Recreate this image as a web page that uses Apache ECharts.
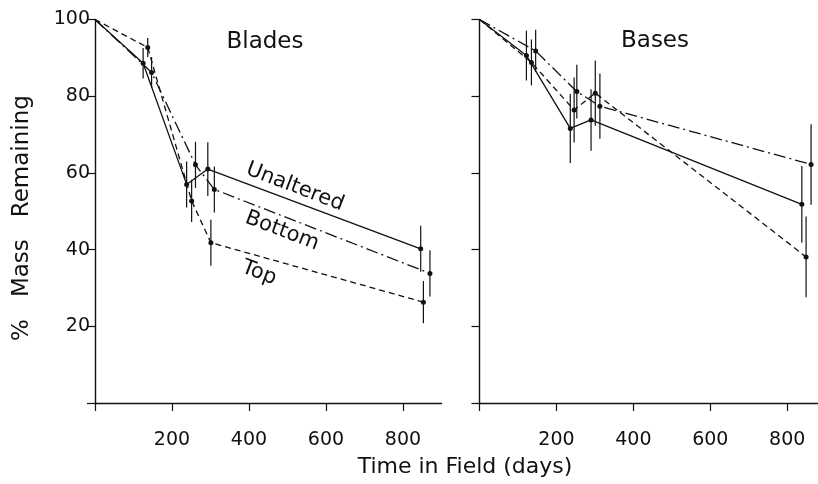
<!DOCTYPE html>
<html><head><meta charset="utf-8">
<script src="https://cdn.jsdelivr.net/npm/echarts@6/dist/echarts.min.js"></script>
<style>html,body{margin:0;padding:0;background:#fff}#c{width:818px;height:484px}</style>
</head><body><div id="c"></div>
<script>
// ---- data ----
const xTicks = [0, 200, 400, 600, 800];
const yTicks = [0, 20, 40, 60, 80, 100];

const bladesUnalteredDays = [0, 125, 238, 293, 846];
const bladesUnalteredMass = [100, 88.6, 57.0, 61.0, 40.2];
const bladesUnalteredErr  = [0, 4, 6, 7, 6];

const bladesTopDays = [0, 137, 251, 301, 853];
const bladesTopMass = [100, 92.7, 52.7, 41.8, 26.3];
const bladesTopErr  = [0, 2.5, 5.5, 6, 5.5];

const bladesBottomDays = [0, 147, 261, 310, 870];
const bladesBottomMass = [100, 86.2, 62.1, 55.7, 33.8];
const bladesBottomErr  = [0, 4, 6, 6, 6];

const basesUnalteredDays = [0, 122, 236, 290, 838];
const basesUnalteredMass = [100, 90.6, 71.6, 73.8, 51.8];
const basesUnalteredErr  = [0, 6.5, 9, 8, 10];

const basesTopDays = [0, 135, 246, 301, 849];
const basesTopMass = [100, 88.8, 76.4, 80.8, 38.1];
const basesTopErr  = [0, 6, 8.5, 8.5, 10.5];

const basesBottomDays = [0, 146, 253, 313, 862];
const basesBottomMass = [100, 91.8, 81.2, 77.4, 62.2];
const basesBottomErr  = [0, 5.5, 7, 8.5, 10.5];

// ---- chart ----
const FONT = 'DejaVu Sans';
const INK = '#111';
const chart = echarts.init(document.getElementById('c'), null, {renderer: 'canvas'});

function pts(d, m) {
  return d.map((x, i) => ({value: [x, m[i]], symbolSize: i === 0 ? 0 : 5}));
}
function errs(d, m, e) {
  const out = [];
  d.forEach((x, i) => { if (e[i] > 0) out.push([x, m[i] - e[i], m[i] + e[i]]); });
  return out;
}
function lineSeries(name, idx, d, m, type) {
  return {
    name, type: 'line', xAxisIndex: idx, yAxisIndex: idx,
    data: pts(d, m), symbol: 'circle',
    lineStyle: {color: INK, width: 1.3, type: type},
    itemStyle: {color: INK},
    animation: false, silent: true
  };
}
function errSeries(idx, d, m, e) {
  return {
    type: 'custom', xAxisIndex: idx, yAxisIndex: idx,
    data: errs(d, m, e), animation: false, silent: true,
    renderItem(params, api) {
      const a = api.coord([api.value(0), api.value(1)]);
      const b = api.coord([api.value(0), api.value(2)]);
      return {type: 'line', shape: {x1: a[0], y1: a[1], x2: b[0], y2: b[1]},
        style: {stroke: INK, lineWidth: 1.2}};
    }
  };
}
const DASH = [6, 4];
const DASHDOT = [12, 4, 2, 4];

function xAxis(idx, max) {
  return {
    type: 'value', gridIndex: idx, min: 0, max: max, interval: 200,
    axisLine: {show: true, onZero: false, lineStyle: {color: INK, width: 1.4}},
    axisTick: {show: true, length: 8, lineStyle: {color: INK, width: 1.2}, customValues: xTicks},
    axisLabel: {show: true, color: INK, fontFamily: FONT, fontSize: 19, margin: 28,
      customValues: xTicks.filter(v => v > 0),
      formatter: v => (v > 0 && v % 200 === 0 && v <= 800) ? String(v) : ''},
    splitLine: {show: false}
  };
}
function yAxis(idx, showLabels) {
  return {
    type: 'value', gridIndex: idx, min: 0, max: 100, interval: 20,
    axisLine: {show: true, onZero: false, lineStyle: {color: INK, width: 1.4}},
    axisTick: {show: true, length: 8, lineStyle: {color: INK, width: 1.2}, customValues: yTicks},
    axisLabel: {show: showLabels, color: INK, fontFamily: FONT, fontSize: 19, margin: 5,
      customValues: yTicks.filter(v => v > 0),
      formatter: v => v === 0 ? '' : String(v)},
    splitLine: {show: false}
  };
}

const option = {
  backgroundColor: '#fff',
  animation: false,
  grid: [
    {left: 95, top: 19.5, width: 346.5, height: 383.5},
    {left: 479.5, top: 19.5, width: 339, height: 383.5}
  ],
  xAxis: [xAxis(0, 900), xAxis(1, 880)],
  yAxis: [yAxis(0, true), yAxis(1, false)],
  series: [
    lineSeries('Unaltered', 0, bladesUnalteredDays, bladesUnalteredMass, 'solid'),
    lineSeries('Top', 0, bladesTopDays, bladesTopMass, DASH),
    lineSeries('Bottom', 0, bladesBottomDays, bladesBottomMass, DASHDOT),
    errSeries(0, bladesUnalteredDays, bladesUnalteredMass, bladesUnalteredErr),
    errSeries(0, bladesTopDays, bladesTopMass, bladesTopErr),
    errSeries(0, bladesBottomDays, bladesBottomMass, bladesBottomErr),
    lineSeries('Unaltered', 1, basesUnalteredDays, basesUnalteredMass, 'solid'),
    lineSeries('Top', 1, basesTopDays, basesTopMass, DASH),
    lineSeries('Bottom', 1, basesBottomDays, basesBottomMass, DASHDOT),
    errSeries(1, basesUnalteredDays, basesUnalteredMass, basesUnalteredErr),
    errSeries(1, basesTopDays, basesTopMass, basesTopErr),
    errSeries(1, basesBottomDays, basesBottomMass, basesBottomErr)
  ],
  graphic: [
    {type: 'text', x: 265, y: 42, style: {text: 'Blades', font: '23px "DejaVu Sans"', fill: INK, align: 'center', verticalAlign: 'middle'}},
    {type: 'text', x: 655, y: 41, style: {text: 'Bases', font: '23px "DejaVu Sans"', fill: INK, align: 'center', verticalAlign: 'middle'}},
    {type: 'text', x: 295, y: 187, rotation: -21 * Math.PI / 180,
      style: {text: 'Unaltered', font: '21px "DejaVu Sans"', fill: INK, align: 'center', verticalAlign: 'middle'}},
    {type: 'text', x: 282, y: 231, rotation: -21 * Math.PI / 180,
      style: {text: 'Bottom', font: '21px "DejaVu Sans"', fill: INK, align: 'center', verticalAlign: 'middle'}},
    {type: 'text', x: 259, y: 273, rotation: -21 * Math.PI / 180,
      style: {text: 'Top', font: '21px "DejaVu Sans"', fill: INK, align: 'center', verticalAlign: 'middle'}},
    {type: 'text', x: 465, y: 467,
      style: {text: 'Time in Field (days)', font: '22px "DejaVu Sans"', fill: INK, align: 'center', verticalAlign: 'middle'}},
    {type: 'text', x: 22, y: 218, rotation: Math.PI / 2,
      style: {text: '%   Mass   Remaining', font: '23px "DejaVu Sans"', fill: INK, align: 'center', verticalAlign: 'middle'}}
  ]
};
chart.setOption(option);
</script></body></html>
